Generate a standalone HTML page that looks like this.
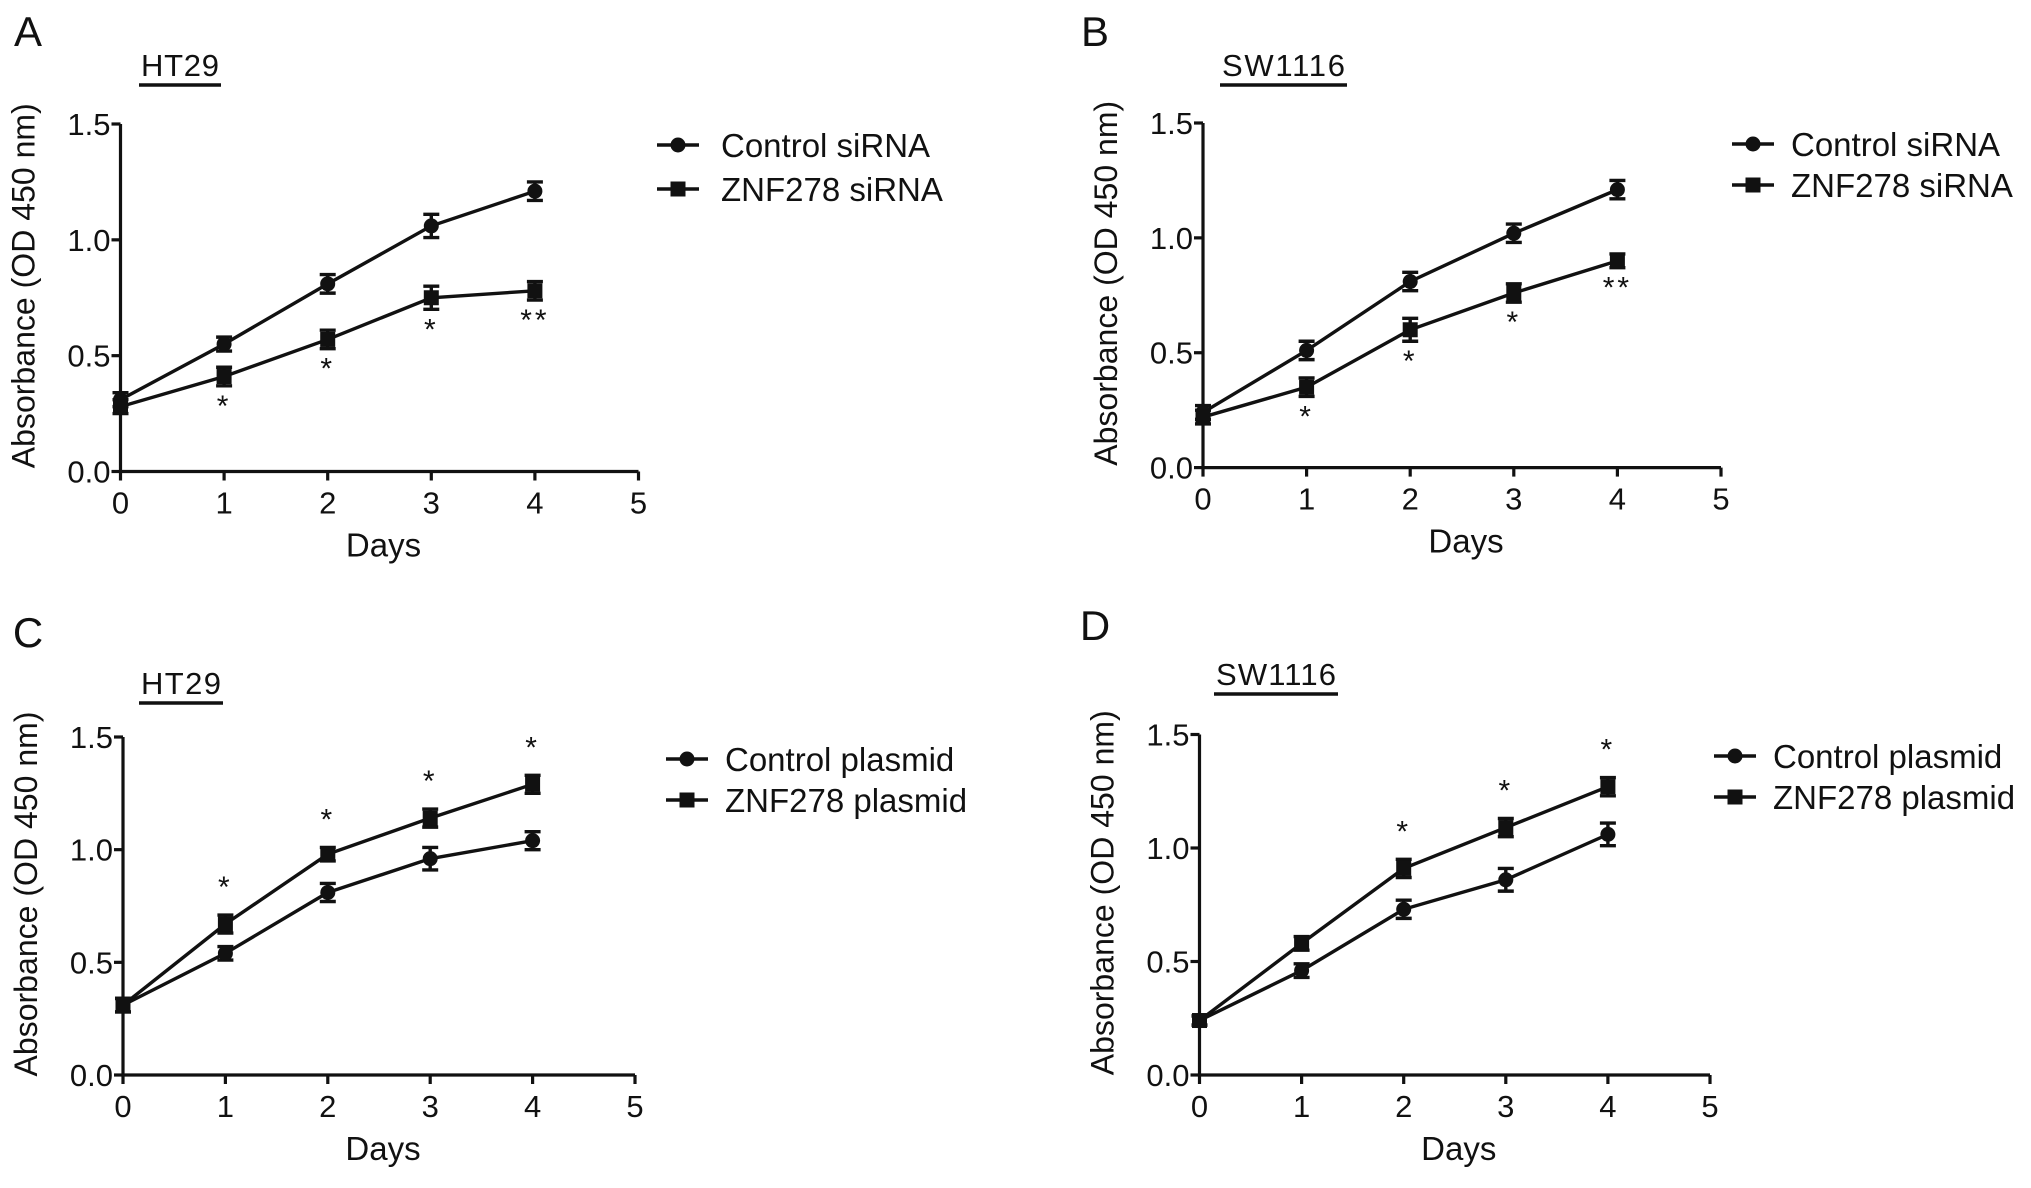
<!DOCTYPE html>
<html><head><meta charset="utf-8"><style>
html,body{margin:0;padding:0;background:#fff;}
svg{display:block;font-family:"Liberation Sans",Arial,sans-serif;}
</style></head><body>
<svg id="fig" width="2031" height="1188" viewBox="0 0 2031 1188" xmlns="http://www.w3.org/2000/svg"></svg>
<script>
const days = [0, 1, 2, 3, 4];
const xTicks = ["0", "1", "2", "3", "4", "5"];
const yTicks = ["0.0", "0.5", "1.0", "1.5"];
const yTickVals = [0, 0.5, 1.0, 1.5];
const aControl = [0.31, 0.55, 0.81, 1.06, 1.21];
const aControlErr = [0.03, 0.03, 0.04, 0.05, 0.04];
const aZnf = [0.28, 0.41, 0.57, 0.75, 0.78];
const aZnfErr = [0.03, 0.04, 0.04, 0.05, 0.04];
const aStars = ["", "*", "*", "*", "**"];
const bControl = [0.24, 0.51, 0.81, 1.02, 1.21];
const bControlErr = [0.03, 0.04, 0.04, 0.04, 0.04];
const bZnf = [0.22, 0.35, 0.60, 0.76, 0.90];
const bZnfErr = [0.03, 0.04, 0.05, 0.04, 0.03];
const bStars = ["", "*", "*", "*", "**"];
const cControl = [0.31, 0.54, 0.81, 0.96, 1.04];
const cControlErr = [0.03, 0.03, 0.04, 0.05, 0.04];
const cZnf = [0.31, 0.67, 0.98, 1.14, 1.29];
const cZnfErr = [0.03, 0.04, 0.03, 0.04, 0.04];
const cStars = ["", "*", "*", "*", "*"];
const dControl = [0.24, 0.46, 0.73, 0.86, 1.06];
const dControlErr = [0.02, 0.03, 0.04, 0.05, 0.05];
const dZnf = [0.24, 0.58, 0.91, 1.09, 1.27];
const dZnfErr = [0.02, 0.03, 0.04, 0.04, 0.04];
const dStars = ["", "", "*", "*", "*"];

const NS = "http://www.w3.org/2000/svg";
const svg = document.getElementById("fig");
function mk(tag, attrs, parent, txt) {
  const e = document.createElementNS(NS, tag);
  for (const k in attrs) e.setAttribute(k, attrs[k]);
  if (txt !== undefined) e.textContent = txt;
  (parent || svg).appendChild(e);
  return e;
}

const panels = [
  {id:"a", letter:"A", lx:28, ly:46, cell:"HT29", cx0:139, cx1:221, cy:76,
   x0:120.5, x1:638.5, y0:471.5, y1:124, legX:657, legTx:721, legY:[145,189],
   names:["Control siRNA","ZNF278 siRNA"], c:aControl, ce:aControlErr, z:aZnf, ze:aZnfErr, stars:aStars, starAbove:false},
  {id:"b", letter:"B", lx:1095, ly:46, cell:"SW1116", cx0:1220, cx1:1347, cy:76,
   x0:1203, x1:1721, y0:467.6, y1:123, legX:1732, legTx:1791, legY:[144,185],
   names:["Control siRNA","ZNF278 siRNA"], c:bControl, ce:bControlErr, z:bZnf, ze:bZnfErr, stars:bStars, starAbove:false},
  {id:"c", letter:"C", lx:28, ly:647, cell:"HT29", cx0:139, cx1:223, cy:694,
   x0:123, x1:635, y0:1075, y1:737, legX:666, legTx:725, legY:[759,800],
   names:["Control plasmid","ZNF278 plasmid"], c:cControl, ce:cControlErr, z:cZnf, ze:cZnfErr, stars:cStars, starAbove:true},
  {id:"d", letter:"D", lx:1095, ly:640, cell:"SW1116", cx0:1214, cx1:1338, cy:685,
   x0:1199.5, x1:1710, y0:1075, y1:734.5, legX:1714, legTx:1773, legY:[756,797],
   names:["Control plasmid","ZNF278 plasmid"], c:dControl, ce:dControlErr, z:dZnf, ze:dZnfErr, stars:dStars, starAbove:true}
];

function marker(g, kind, x, y, name) {
  let m;
  if (kind === "circle") m = mk("circle", {cx:x, cy:y, r:7.5, fill:"#111"}, g);
  else m = mk("rect", {x:x-7.5, y:y-7.5, width:15, height:15, fill:"#111"}, g);
  
  
}

panels.forEach(p => {
  const g = mk("g", {});
  
  
  const xs = d => p.x0 + (p.x1 - p.x0) * d / 5;
  const ys = v => p.y0 - (p.y0 - p.y1) * v / 1.5;
  const L = mk("text", {x:p.lx, y:p.ly, "font-size":42, "text-anchor":"middle", fill:"#111"}, g, p.letter);
  
  
  const ct = mk("text", {x:(p.cx0+p.cx1)/2, y:p.cy, "font-size":31, "text-anchor":"middle", fill:"#111", textLength:(p.cx1-p.cx0)-4}, g, p.cell);
  
  
  mk("line", {x1:p.cx0, x2:p.cx1, y1:p.cy+9, y2:p.cy+9, stroke:"#111", "stroke-width":3.5}, g);
  const ax = mk("path", {d:`M${p.x0},${p.y1} V${p.y0} H${p.x1}`, fill:"none", stroke:"#111", "stroke-width":3.2}, g);
  
  
  yTickVals.forEach((v, i) => {
    const y = ys(v);
    mk("line", {x1:p.x0-9, x2:p.x0, y1:y, y2:y, stroke:"#111", "stroke-width":3.2}, g);
    const t = mk("text", {x:p.x0-10, y:y+11, "font-size":31, "text-anchor":"end", fill:"#111"}, g, yTicks[i]);
    
    
  });
  xTicks.forEach((lab, i) => {
    const x = xs(i);
    mk("line", {x1:x, x2:x, y1:p.y0, y2:p.y0+9, stroke:"#111", "stroke-width":3.2}, g);
    const t = mk("text", {x:x, y:p.y0+42, "font-size":31, "text-anchor":"middle", fill:"#111"}, g, lab);
    
    
  });
  const xt = mk("text", {x:p.x0 + (p.x1-p.x0)*0.5 + 4, y:p.y0+85, "font-size":33, "text-anchor":"middle", fill:"#111"}, g, "Days");
  
  
  const ymid = (p.y0 + p.y1) / 2 - 12;
  const yt = mk("text", {x:0, y:0, "font-size":32, "text-anchor":"middle", fill:"#111", textLength:365,
    transform:`translate(${p.x0-86},${ymid}) rotate(-90)`}, g, "Absorbance (OD 450 nm)");
  
  
  [[p.c, p.ce, "circle", "control"], [p.z, p.ze, "square", "znf278"]].forEach(([vals, errs, kind, nm]) => {
    const sg = mk("g", {}, g);
    
    
    const d = days.map((dd, i) => (i ? "L" : "M") + xs(dd) + "," + ys(vals[i])).join(" ");
    mk("path", {d:d, fill:"none", stroke:"#111", "stroke-width":3.4}, sg);
    days.forEach((dd, i) => {
      const x = xs(dd), yt2 = ys(vals[i] + errs[i]), yb = ys(vals[i] - errs[i]);
      mk("path", {d:`M${x},${yt2} V${yb} M${x-8},${yt2} H${x+8} M${x-8},${yb} H${x+8}`, stroke:"#111", "stroke-width":3.4, fill:"none"}, sg);
      marker(sg, kind, x, ys(vals[i]), 'point-' + nm + '-day' + dd);
    });
  });
  days.forEach((dd, i) => {
    if (!p.stars[i]) return;
    const x = xs(dd);
    let y;
    if (p.starAbove) y = ys(p.z[i] + p.ze[i]) - 18;
    else y = ys(p.z[i] - p.ze[i]) + 30;
    const s = mk("text", {x:x, y:y, "font-size":30, "text-anchor":"middle", fill:"#111", "letter-spacing":"3"}, g, p.stars[i]);
    
    
  });
  p.names.forEach((n, i) => {
    const lg = mk("g", {}, g);
    
    
    const y = p.legY[i];
    mk("line", {x1:p.legX, x2:p.legX+42, y1:y, y2:y, stroke:"#111", "stroke-width":3.4}, lg);
    marker(lg, i === 0 ? "circle" : "square", p.legX+21, y, 'legend-marker');
    mk("text", {x:p.legTx, y:y+12, "font-size":33, fill:"#111"}, lg, n);
  });
});
</script>
</body></html>
